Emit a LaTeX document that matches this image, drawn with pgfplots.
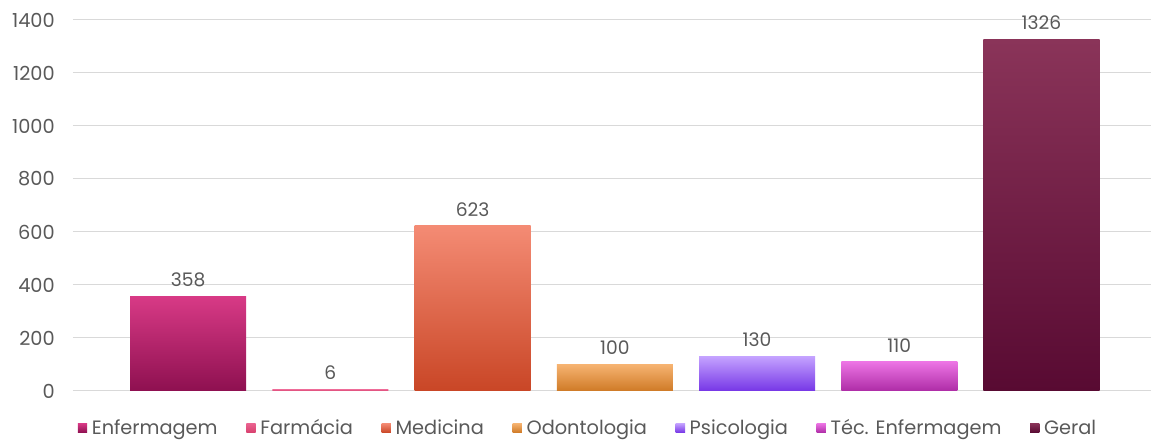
\documentclass[border=0pt]{standalone}
\usepackage{fontspec}
\setmainfont{Poppins}
\usepackage{pgfplots}
\pgfplotsset{compat=1.18}

\definecolor{txt}{HTML}{595959}
\definecolor{gridc}{HTML}{D9D9D9}
% bar gradients (top / bottom)
\definecolor{enfT}{HTML}{D83A86}\definecolor{enfB}{HTML}{8E1050}
\definecolor{farT}{HTML}{EA6390}\definecolor{farB}{HTML}{D8406E}
\definecolor{medT}{HTML}{F48B74}\definecolor{medB}{HTML}{C94626}
\definecolor{odoT}{HTML}{F6B371}\definecolor{odoB}{HTML}{CF7A26}
\definecolor{psiT}{HTML}{C4A2FF}\definecolor{psiB}{HTML}{7636E6}
\definecolor{tecT}{HTML}{EC74E4}\definecolor{tecB}{HTML}{AE2CA6}
\definecolor{gerT}{HTML}{8A3459}\definecolor{gerB}{HTML}{580A32}

\begin{document}
\begin{tikzpicture}
\begin{axis}[
  scale only axis,
  width=808.5pt, height=278.25pt,
  xmin=-0.81, xmax=6.77,
  ymin=0, ymax=1400,
  ytick={0,200,...,1400},
  xtick=\empty,
  ymajorgrids,
  grid style={gridc, line width=0.75pt},
  axis line style={draw=none},
  major tick length=0pt,
  ybar, bar width=0.816, bar shift=0pt,
  /pgf/number format/assume math mode=true,
  /pgf/number format/1000 sep={},
  yticklabel style={font=\fontsize{14.5}{16}\selectfont, text=txt, inner sep=0pt, xshift=-13.5pt},
  nodes near coords,
  nodes near coords style={font=\fontsize{14}{16}\selectfont, text=txt, anchor=south, inner sep=0pt, yshift=7pt},
  legend columns=-1,
  legend style={at={(0.479,-0.0997)}, anchor=center, draw=none, fill=none,
    font=\fontsize{14.5}{16}\selectfont, text=txt,
    /tikz/every even column/.append style={column sep=18pt},
    nodes={inner xsep=3.5pt, inner ysep=0pt}},
  legend image code/.code={\path[#1, draw=none] (0pt,-3.5pt) rectangle (7pt,3.5pt);},
]
\addplot[draw=none, top color=enfT, bottom color=enfB] coordinates {(0,358)};
\addlegendentry{Enfermagem}
\addplot[draw=none, top color=farT, bottom color=farB] coordinates {(1,6)};
\addlegendentry{Farmácia}
\addplot[draw=none, top color=medT, bottom color=medB] coordinates {(2,623)};
\addlegendentry{Medicina}
\addplot[draw=none, top color=odoT, bottom color=odoB] coordinates {(3,100)};
\addlegendentry{Odontologia}
\addplot[draw=none, top color=psiT, bottom color=psiB] coordinates {(4,130)};
\addlegendentry{Psicologia}
\addplot[draw=none, top color=tecT, bottom color=tecB] coordinates {(5,110)};
\addlegendentry{Téc. Enfermagem}
\addplot[draw=none, top color=gerT, bottom color=gerB] coordinates {(6,1326)};
\addlegendentry{Geral}
\end{axis}
\pgfresetboundingbox
\path[use as bounding box] (-54.75pt,-37.5pt) rectangle (808.5pt,293.25pt);
\end{tikzpicture}
\end{document}
